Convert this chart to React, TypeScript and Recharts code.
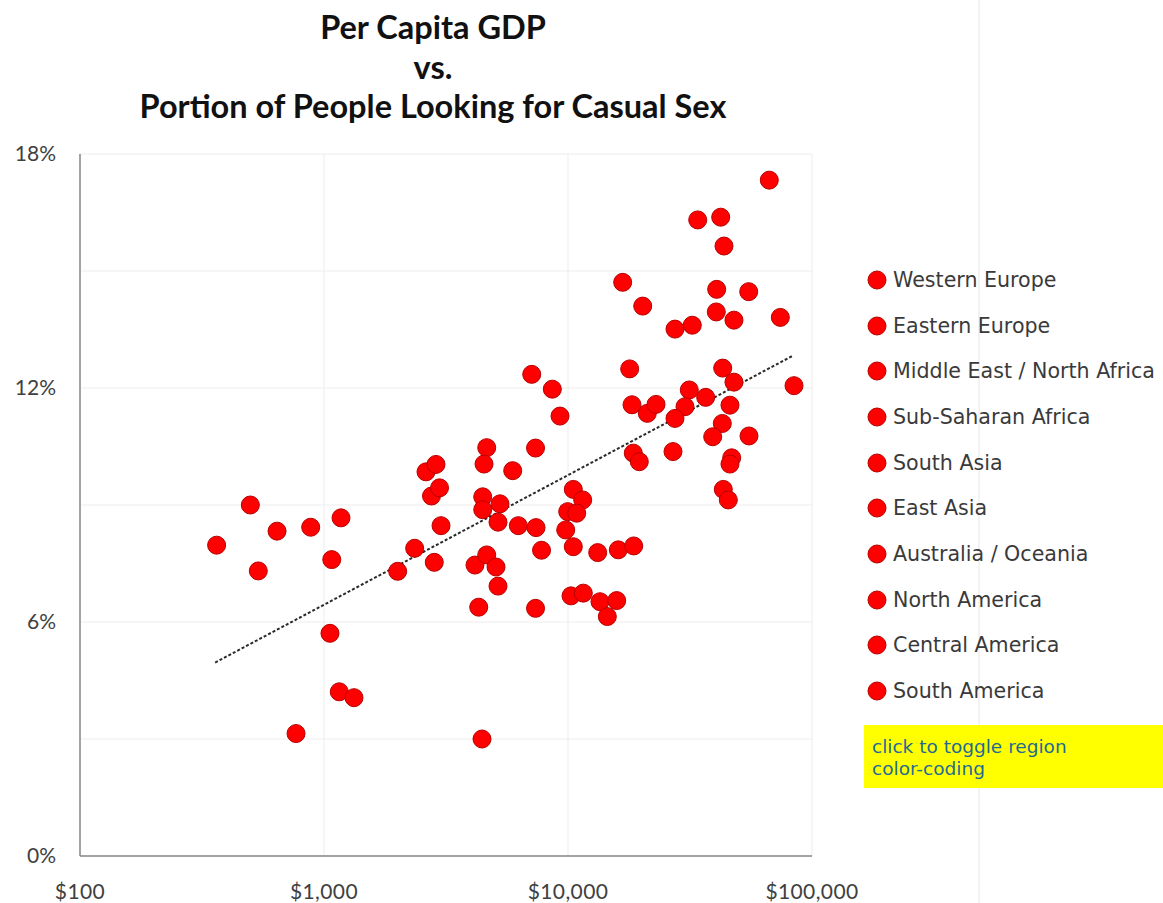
import React from 'react';
import { ScatterChart, Scatter, XAxis, YAxis, CartesianGrid, ReferenceLine, Legend } from 'recharts';

const regions = [
  'Western Europe',
  'Eastern Europe',
  'Middle East / North Africa',
  'Sub-Saharan Africa',
  'South Asia',
  'East Asia',
  'Australia / Oceania',
  'North America',
  'Central America',
  'South America',
];

const gdpPerCapita = [
  363, 499, 538, 642, 882, 1174, 1076, 1058, 1155, 1327, 768, 2004, 2353, 2831, 3017, 2758, 2975, 2618, 2877,
  4644, 4527, 5935, 7361, 4472, 4472, 5264, 5166, 6257, 7396, 4157, 4644, 5069, 7789, 5166, 4306, 7361, 4442, 7101, 8625,
  9273, 10513, 11487, 9972, 10856, 9786, 10513, 13234, 16073, 18591, 10287, 11554, 13522, 15834, 14494,
  66834, 34010, 42247, 43582, 16753, 20238, 40678, 55031, 40528, 47885, 74165, 27446, 32313, 17896, 43053, 47885, 84383,
  18295, 21135, 22948, 31413, 36666, 30165, 27446, 46111, 42895, 39174, 55183, 18518, 19599, 26933, 46860, 46111, 43302, 45394,
];

const casualSexShare = [
  7.97, 9.0, 7.31, 8.33, 8.43, 8.67, 7.6, 5.71, 4.21, 4.06, 3.14, 7.3, 7.89, 7.53, 8.47, 9.23, 9.44, 9.85, 10.04,
  10.47, 10.05, 9.88, 10.46, 9.21, 8.88, 9.03, 8.56, 8.47, 8.42, 7.46, 7.72, 7.41, 7.84, 6.92, 6.38, 6.35, 3.0, 12.35, 11.97,
  11.28, 9.4, 9.13, 8.83, 8.79, 8.36, 7.93, 7.78, 7.85, 7.95, 6.67, 6.74, 6.52, 6.55, 6.14,
  17.33, 16.31, 16.38, 15.64, 14.71, 14.1, 14.53, 14.47, 13.95, 13.74, 13.81, 13.51, 13.61, 12.49, 12.51, 12.15, 12.06,
  11.57, 11.35, 11.58, 11.95, 11.76, 11.52, 11.22, 11.56, 11.09, 10.75, 10.77, 10.33, 10.11, 10.37, 10.21, 10.05, 9.4, 9.13,
];

const trendGdp = [358, 83590];
const trendShare = [4.96, 12.83];

const xTicks = [100, 1000, 10000, 100000];
const yTicks = [0, 3, 6, 9, 12, 15, 18];
const yLabelled = [0, 6, 12, 18];

const titleLines = ['Per Capita GDP', 'vs.', 'Portion of People Looking for Casual Sex'];
const toggleNote = ['click to toggle region', 'color-coding'];

const points = gdpPerCapita.map((g, i) => ({ gdp: g, pct: casualSexShare[i] }));

const RED = '#ff0000';
const RED_EDGE = '#b80000';
const TICK_FONT = 'Lato, "Open Sans", sans-serif';
const LEGEND_FONT = '"DejaVu Sans", Verdana, sans-serif';

const Dot = (props: any) => {
  const { cx, cy } = props;
  if (cx == null || cy == null) return <g />;
  return <circle cx={cx} cy={cy} r={9} fill={RED} stroke={RED_EDGE} strokeWidth={1} />;
};

const XTick = (props: any) => {
  const { x, y, payload } = props;
  return (
    <text x={x} y={y + 43} textAnchor="middle" fontFamily={TICK_FONT} fontSize={21} fill="#404040" letterSpacing={0.4}>
      {'$' + Number(payload.value).toLocaleString('en-US')}
    </text>
  );
};

const YTick = (props: any) => {
  const { x, y, payload } = props;
  if (!yLabelled.includes(payload.value)) return <g />;
  return (
    <text x={x} y={y + 7} textAnchor="end" fontFamily={TICK_FONT} fontSize={21} fill="#404040">
      {payload.value + '%'}
    </text>
  );
};

const RegionLegend = () => (
  <div style={{ fontFamily: LEGEND_FONT }}>
    {regions.map((r) => (
      <div key={r} style={{ height: 45.7, display: 'flex', alignItems: 'center' }}>
        <svg width={22} height={22} style={{ flex: 'none' }}>
          <circle cx={11} cy={11} r={9} fill={RED} stroke={RED_EDGE} strokeWidth={1} />
        </svg>
        <span style={{ marginLeft: 5, fontSize: 20.6, color: '#3a3a3a', whiteSpace: 'nowrap' }}>{r}</span>
      </div>
    ))}
  </div>
);

export default function App() {
  return (
    <div style={{ position: 'absolute', left: 0, top: 0, width: 1163, height: 903, background: '#fff', overflow: 'hidden' }}>
      <svg width={1163} height={903} style={{ position: 'absolute', left: 0, top: 0 }}>
        <line x1={979} y1={0} x2={979} y2={903} stroke="#e6e6e6" strokeWidth={1} />
        {titleLines.map((t, i) => (
          <text key={t} x={433} y={39 + i * 39.5} textAnchor="middle" fontFamily='Lato, "Open Sans", sans-serif' fontWeight={700} fontSize={32.5} fill="#111">
            {t}
          </text>
        ))}
      </svg>
      <div style={{ position: 'absolute', left: 0, top: 0 }}>
        <ScatterChart width={1163} height={903} margin={{ top: 154, right: 351, bottom: 0, left: 0 }}>
          <CartesianGrid stroke="#ededed" strokeWidth={1} />
          <XAxis
            type="number"
            dataKey="gdp"
            scale="log"
            domain={[100, 100000]}
            ticks={xTicks}
            interval={0}
            height={47}
            tickSize={0}
            tickMargin={0}
            tickLine={false}
            axisLine={{ stroke: '#878787', strokeWidth: 1.5 }}
            tick={<XTick />}
            allowDataOverflow
          />
          <YAxis
            type="number"
            dataKey="pct"
            domain={[0, 18]}
            ticks={yTicks}
            interval={0}
            width={80}
            tickSize={0}
            tickMargin={24}
            tickLine={false}
            axisLine={{ stroke: '#878787', strokeWidth: 1.5 }}
            tick={<YTick />}
            allowDataOverflow
          />
          <Scatter data={points} shape={<Dot />} isAnimationActive={false} />
          <ReferenceLine
            segment={[
              { x: trendGdp[0], y: trendShare[0] },
              { x: trendGdp[1], y: trendShare[1] },
            ]}
            stroke="#2a2a2a"
            strokeWidth={2}
            strokeDasharray="3 2"
          />
          <Legend
            layout="vertical"
            align="center"
            verticalAlign="middle"
            content={<RegionLegend />}
            wrapperStyle={{ left: 866, top: 257, width: 297, height: 457 }}
          />
        </ScatterChart>
      </div>
      <div
        style={{
          position: 'absolute',
          left: 864,
          top: 725,
          width: 299,
          height: 63,
          background: '#ffff00',
          boxSizing: 'border-box',
          padding: '11px 0 0 8px',
          fontFamily: LEGEND_FONT,
          fontSize: 18.5,
          lineHeight: '22px',
          color: '#1f6a96',
        }}
      >
        {toggleNote.map((t) => (
          <div key={t} style={{ whiteSpace: 'nowrap' }}>{t}</div>
        ))}
      </div>
    </div>
  );
}
